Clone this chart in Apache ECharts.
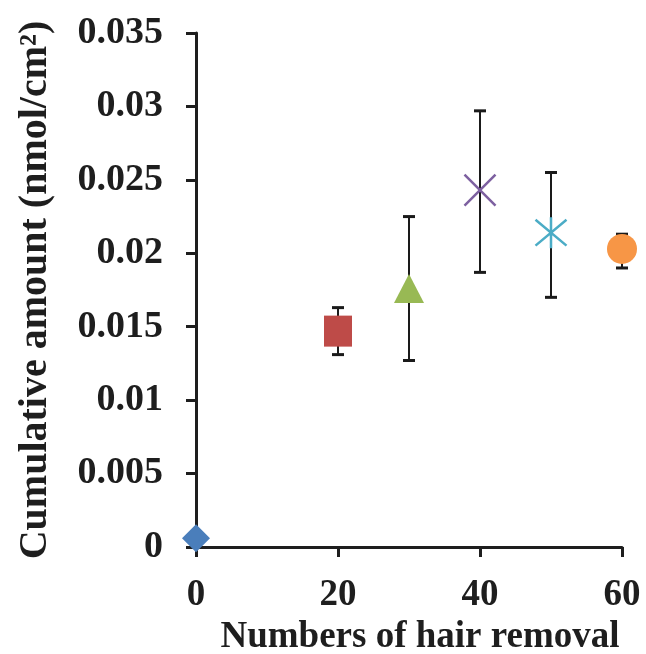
<!DOCTYPE html>
<html>
<head>
<meta charset="utf-8">
<script src="https://cdn.jsdelivr.net/npm/echarts@6/dist/echarts.min.js"></script>
<style>
html,body{margin:0;padding:0;background:#fff;}
#chart{width:646px;height:654px;}
</style>
</head>
<body>
<div id="chart"></div>
<script>
// ---- data ----
var hairRemovals = [0, 20, 30, 40, 50, 60];
var cumulativeMean = [0.0006, 0.0147, 0.0176, 0.0243, 0.0214, 0.0203];
var errorLower = [0.0006, 0.0131, 0.0127, 0.0187, 0.0170, 0.0190];
var errorUpper = [0.0006, 0.0163, 0.0225, 0.0297, 0.0255, 0.0213];
var xTickLabels = ['0', '20', '40', '60'];
var yTickLabels = ['0', '0.005', '0.01', '0.015', '0.02', '0.025', '0.03', '0.035'];

// ---- styles ----
var markerColors = ['#4a7ebb', '#be4b48', '#98b954', '#7d60a0', '#4bacc6', '#f79646'];
var markerSymbols = ['diamond', 'rect', 'triangle',
  'path://M0,0L10,10M10,0L0,10',
  'path://M0,0L10,10M10,0L0,10M5,-1L5,11',
  'circle'];
var markerSizes = [[28, 28], [28, 31], [30, 29], [31, 31], [31, 31], [30, 30]];
var strokeOnly = [false, false, false, true, true, false];

var font = 'Liberation Serif';
var ink = '#1e1e1e';

var scatterData = hairRemovals.map(function (x, i) {
  return {
    value: [x, cumulativeMean[i]],
    symbol: markerSymbols[i],
    symbolSize: markerSizes[i],
    itemStyle: strokeOnly[i]
      ? { color: 'rgba(0,0,0,0)', borderColor: markerColors[i], borderWidth: 2.5, opacity: 1 }
      : { color: markerColors[i], borderWidth: 0, opacity: 1 }
  };
});

var errData = hairRemovals.map(function (x, i) {
  return [x, errorLower[i], errorUpper[i]];
});

var chart = echarts.init(document.getElementById('chart'), null, { renderer: 'canvas' });
chart.setOption({
  backgroundColor: '#ffffff',
  animation: false,
  grid: { left: 196, right: 24, top: 33, bottom: 107, outerBoundsMode: 'none', containLabel: false },
  xAxis: {
    type: 'value', min: 0, max: 60, interval: 20,
    name: 'Numbers of hair removal',
    nameLocation: 'middle', nameGap: 64,
    nameTextStyle: { fontFamily: font, fontWeight: 'bold', fontSize: 37, color: ink, padding: [0, 0, 0, 22] },
    axisLine: { show: true, onZero: false, lineStyle: { color: ink, width: 3 } },
    axisTick: { show: true, inside: false, length: 10, lineStyle: { color: ink, width: 3 } },
    splitLine: { show: false },
    axisLabel: {
      margin: 30, fontFamily: font, fontWeight: 'bold', fontSize: 37, color: ink,
      formatter: function (v) { return xTickLabels[Math.round(v / 20)]; }
    }
  },
  yAxis: {
    type: 'value', min: 0, max: 0.035, interval: 0.005,
    name: 'Cumulative amount (nmol/cm²)',
    nameLocation: 'middle', nameGap: 140, nameRotate: 90,
    nameTextStyle: { fontFamily: font, fontWeight: 'bold', fontSize: 40, color: ink },
    axisLine: { show: true, onZero: false, lineStyle: { color: ink, width: 3 } },
    axisTick: { show: true, inside: false, length: 10, lineStyle: { color: ink, width: 3 } },
    splitLine: { show: false },
    axisLabel: {
      margin: 33, fontFamily: font, fontWeight: 'bold', fontSize: 38, color: ink,
      formatter: function (v) { return yTickLabels[Math.round(v / 0.005)]; }
    }
  },
  series: [
    {
      type: 'custom',
      z: 1,
      data: errData,
      renderItem: function (params, api) {
        var x = api.value(0);
        if (api.value(2) - api.value(1) <= 0) { return null; }
        var lo = api.coord([x, api.value(1)]);
        var hi = api.coord([x, api.value(2)]);
        var cap = 6;
        var st = { stroke: '#1a1a1a', lineWidth: 2 };
        var capSt = { stroke: '#1a1a1a', lineWidth: 3 };
        return {
          type: 'group',
          children: [
            { type: 'line', shape: { x1: hi[0], y1: hi[1], x2: lo[0], y2: lo[1] }, style: st },
            { type: 'line', shape: { x1: hi[0] - cap, y1: hi[1], x2: hi[0] + cap, y2: hi[1] }, style: capSt },
            { type: 'line', shape: { x1: lo[0] - cap, y1: lo[1], x2: lo[0] + cap, y2: lo[1] }, style: capSt }
          ]
        };
      }
    },
    {
      type: 'scatter',
      z: 3,
      data: scatterData
    }
  ]
});
</script>
</body>
</html>
